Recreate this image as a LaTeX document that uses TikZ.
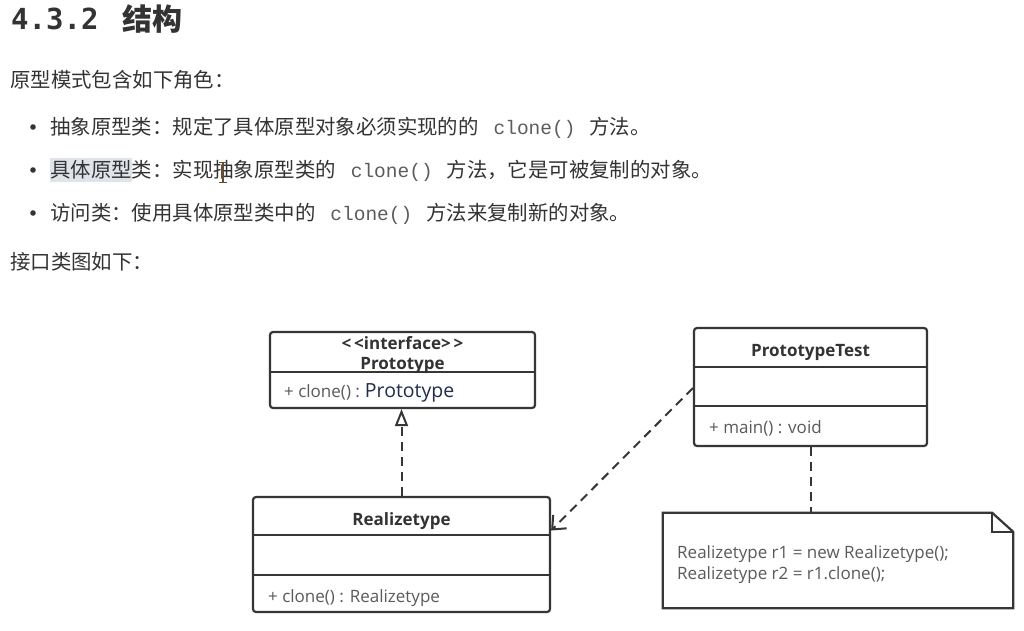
\documentclass[tikz,border=0pt]{standalone}
\usepackage{fontspec}
\setmainfont{Open Sans}
\newfontfamily\cjk{Noto Sans CJK SC}
\newfontfamily\codefont{Liberation Mono}
\newfontfamily\headmono{DejaVu Sans Mono}
\usetikzlibrary{positioning}
\usetikzlibrary{arrows.meta}
\definecolor{ink}{HTML}{333333}
\definecolor{line}{HTML}{363636}
\definecolor{membergray}{HTML}{5A5A5A}
\definecolor{codegray}{HTML}{5C5C5C}
\definecolor{navy}{HTML}{1F2D4F}
\definecolor{marked}{HTML}{DFE4EA}
\definecolor{cursor}{HTML}{6B4A2A}
\newcommand{\codebit}[1]{\hspace{15pt}{\codefont\fontsize{19.5}{22}\selectfont\color{codegray}#1}\hspace{14pt}}

\begin{document}
\begin{tikzpicture}[x=1pt,y=-1pt,
  bodytext/.style={anchor=base west,inner sep=0pt,text=ink,font=\cjk\fontsize{20.4}{24}\selectfont},
  classbox/.style={draw=line,line width=2.2pt,rounded corners=3pt,inner sep=0pt},
  divider/.style={draw=line,line width=1.8pt},
  titletext/.style={anchor=base,inner sep=0pt,text=ink,font=\bfseries\fontsize{17}{20}\selectfont},
  membertext/.style={anchor=base west,inner sep=0pt,text=membergray,font=\fontsize{17}{21}\selectfont},
  link/.style={draw=line,line width=2pt,dash pattern=on 9pt off 6pt}]
 \fill[white] (0,0) rectangle (1024,630);
 \useasboundingbox (0,0) rectangle (1024,630);
 % text part
 \node[anchor=base west,inner sep=0pt,text=ink,font=\headmono\bfseries\fontsize{29}{32}\selectfont] (headnum) at (11,29) {4.3.2};
 \node[anchor=base west,inner sep=0pt,text=ink,font=\cjk\bfseries\fontsize{30}{34}\selectfont] (headtitle) at (122,30) {结构};
 \node[bodytext] (intro) at (10,87) {原型模式包含如下角色：};
 \fill[marked] (50,158) rectangle (132,182);
 \foreach \y in {127,170,213}
  \fill[ink] (33,\y) circle (2.8pt);
 \node[bodytext] (roleabs) at (50,134) {抽象原型类：规定了具体原型对象必须实现的的\codebit{clone()}方法。};
 \node[bodytext] (rolereal) at (50,177) {具体原型类：实现抽象原型类的\codebit{clone()}方法，它是可被复制的对象。};
 \node[bodytext] (roletest) at (50,220) {访问类：使用具体原型类中的\codebit{clone()}方法来复制新的对象。};
 \node[bodytext] (diagcap) at (10,269) {接口类图如下：};
 \draw[cursor,line width=1.3pt] (223,162) -- (223,182);
 \draw[cursor,line width=1pt] (219,162) -- (227,162) (219,182) -- (227,182);
 % Prototype
 \node[classbox,minimum width=265pt,minimum height=76pt] (proto) at (402.5,370) {};
 \draw[divider] (proto.west |- 0,372) -- (proto.east |- 0,372);
 \node[titletext] (protostereo) at (402.5,349.5) {{<}\,{<}interface{>}\,{>}};
 \node[titletext] (protoname) at (402.5,369.5) {Prototype};
 \node[membertext] (protoop) at (284,397.5) {+ clone() :\hspace{5pt}{\color{navy}\fontsize{19.5}{22}\selectfont Prototype}};
 % Realizetype
 \node[classbox,minimum width=297pt,minimum height=115pt] (real) at (401.5,554.5) {};
 \draw[divider] (real.west |- 0,535) -- (real.east |- 0,535);
 \draw[divider] (real.west |- 0,575) -- (real.east |- 0,575);
 \node[titletext] (realname) at (401.5,525) {Realizetype};
 \node[membertext] (realop) at (268,602) {+ clone() : Realizetype};
 % PrototypeTest
 \node[classbox,minimum width=233pt,minimum height=118pt] (test) at (810.5,387) {};
 \draw[divider] (test.west |- 0,367) -- (test.east |- 0,367);
 \draw[divider] (test.west |- 0,406) -- (test.east |- 0,406);
 \node[titletext] (testname) at (810.5,356) {PrototypeTest};
 \node[membertext] (testop) at (709,433) {+ main() : void};
 % note
 \node[minimum width=350pt,minimum height=95pt,inner sep=0pt] (note) at (838,560.5) {};
 \draw[line,line width=2.2pt,line join=miter] (note.north west) -- ([xshift=-21pt]note.north east)
  -- ([yshift=-19pt]note.north east) -- (note.south east) -- (note.south west) -- cycle;
 \draw[line,line width=1.8pt] ([xshift=-21pt]note.north east) -- ([xshift=-21pt,yshift=-19pt]note.north east)
  -- ([yshift=-19pt]note.north east);
 \node[membertext] (noteline1) at (677,558) {Realizetype r1 = new Realizetype();};
 \node[membertext] (noteline2) at (677,579) {Realizetype r2 = r1.clone();};
 % connectors
 \draw[link,-{Triangle[open,length=17pt,width=13pt]}] (real.north) -- (real.north |- proto.south);
 \draw[link,-{Straight Barb[length=11pt,width=19pt]}] ([yshift=-1pt]test.west) -- ([yshift=24pt]real.east);
 \draw[link] (test.south) -- (test.south |- note.north);
\end{tikzpicture}
\end{document}
